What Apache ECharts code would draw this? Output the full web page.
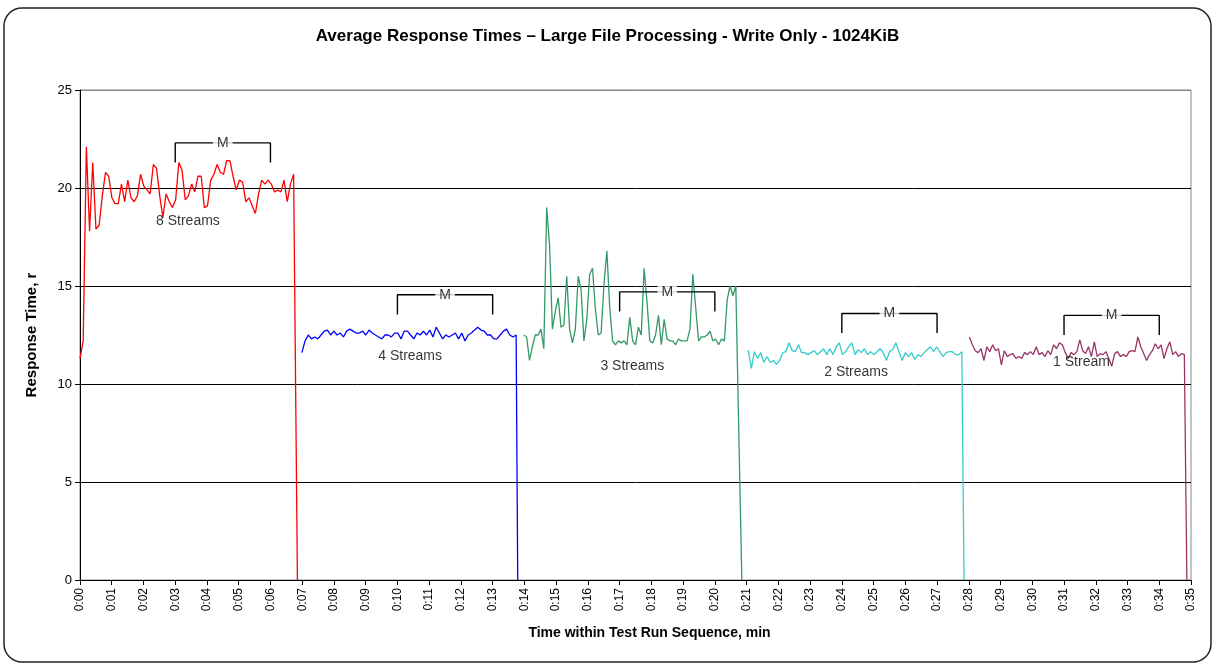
<!DOCTYPE html>
<html>
<head>
<meta charset="utf-8">
<script src="https://cdn.jsdelivr.net/npm/echarts@6/dist/echarts.min.js"></script>
<style>
html,body{margin:0;padding:0;background:#fff;}
#chart{width:1215px;height:664px;}
</style>
</head>
<body>
<div id="chart"></div>
<script>
// ---- data ----
const chartTitle = 'Average Response Times \u2013 Large File Processing - Write Only - 1024KiB';
const yAxisTitle = 'Response Time, r';
const xAxisTitle = 'Time within Test Run Sequence, min';
const seriesNames = ['8 Streams', '4 Streams', '3 Streams', '2 Streams', '1 Stream'];
const seriesColors = ['#FF0000', '#0000FF', '#339966', '#33CCCC', '#993366'];
// minute of first and last sample, and minute where the trace falls to 0
const firstSampleMin = [0.0, 6.99, 13.98, 21.05, 28.02];
const lastSampleMin = [6.73, 13.74, 20.66, 27.78, 34.79];
const dropMin = [6.85, 13.79, 20.85, 27.85, 34.87];

const rt8 = [11.3, 12.2, 22.1, 17.8, 21.3, 17.9, 18.1, 19.6, 20.8, 20.6, 19.5, 19.2, 19.2, 20.2, 19.3, 20.4, 19.5, 19.3, 19.6, 20.7, 20.1, 19.9, 19.7, 21.2, 21.0, 19.6, 18.5, 19.7, 19.3, 19.0, 19.4, 21.3, 20.9, 19.4, 19.6, 20.2, 19.8, 20.6, 20.6, 19.0, 19.1, 20.4, 20.7, 21.2, 20.8, 20.7, 21.4, 21.4, 20.6, 19.9, 20.4, 20.3, 19.3, 19.5, 19.1, 18.7, 19.7, 20.4, 20.2, 20.4, 20.2, 19.8, 19.9, 19.8, 20.4, 19.3, 20.2, 20.7];
const rt4 = [11.6, 12.2, 12.5, 12.3, 12.4, 12.3, 12.5, 12.7, 12.75, 12.5, 12.7, 12.5, 12.6, 12.4, 12.7, 12.8, 12.7, 12.6, 12.6, 12.7, 12.5, 12.75, 12.6, 12.5, 12.4, 12.3, 12.5, 12.5, 12.4, 12.6, 12.6, 12.3, 12.7, 12.7, 12.5, 12.3, 12.6, 12.5, 12.7, 12.5, 12.75, 12.4, 12.9, 12.6, 12.3, 12.5, 12.4, 12.5, 12.6, 12.3, 12.6, 12.2, 12.5, 12.6, 12.75, 12.9, 12.75, 12.7, 12.5, 12.5, 12.3, 12.3, 12.5, 12.7, 12.8, 12.5, 12.4, 12.5];
const rt3 = [12.5, 12.4, 11.2, 11.9, 12.5, 12.5, 12.8, 11.8, 19.0, 17.1, 12.8, 13.7, 14.4, 12.9, 13.0, 15.5, 12.8, 12.1, 12.8, 15.5, 14.8, 12.2, 13.3, 15.6, 15.9, 13.8, 12.5, 12.6, 15.1, 16.8, 13.9, 12.2, 12.0, 12.2, 12.1, 12.2, 12.0, 13.4, 12.2, 12.0, 12.9, 12.5, 15.9, 14.2, 12.2, 12.1, 12.5, 13.5, 12.0, 13.3, 12.3, 12.2, 12.2, 12.0, 12.3, 12.2, 12.2, 12.2, 12.8, 15.6, 13.9, 12.2, 12.4, 12.4, 12.5, 12.7, 12.2, 12.3, 12.0, 12.3, 12.2, 14.3, 15.0, 14.5, 15.0];
const rt2 = [11.73, 10.8, 11.65, 11.3, 11.6, 11.1, 11.4, 11.1, 11.2, 11.0, 11.2, 11.6, 11.65, 12.1, 11.7, 11.65, 12.0, 11.6, 11.6, 11.5, 11.6, 11.7, 11.5, 11.65, 11.8, 11.5, 11.8, 11.5, 11.9, 12.1, 11.5, 11.65, 11.9, 12.1, 11.5, 11.75, 11.6, 11.8, 11.5, 11.65, 11.5, 11.65, 11.8, 11.6, 11.2, 11.65, 11.75, 12.1, 11.65, 11.2, 11.6, 11.4, 11.6, 11.25, 11.5, 11.4, 11.6, 11.75, 11.9, 11.65, 11.9, 11.65, 11.4, 11.6, 11.65, 11.65, 11.5, 11.5, 11.65];
const rt1 = [12.4, 12.0, 11.7, 11.6, 11.8, 11.2, 11.9, 11.65, 12.0, 11.7, 11.8, 10.97, 11.7, 11.4, 11.5, 11.55, 11.3, 11.4, 11.3, 11.6, 11.5, 11.65, 11.5, 11.9, 11.5, 11.6, 11.4, 11.7, 11.5, 12.0, 11.8, 12.1, 12.0, 11.6, 11.3, 11.6, 11.5, 11.65, 12.25, 11.7, 11.55, 11.9, 11.4, 12.15, 11.4, 11.55, 11.5, 11.65, 11.3, 10.9, 11.55, 11.65, 11.4, 11.5, 11.4, 11.65, 11.7, 11.65, 12.4, 11.9, 11.55, 11.2, 11.5, 11.7, 12.05, 11.8, 12.0, 11.3, 11.8, 12.15, 11.5, 11.65, 11.4, 11.55, 11.5];
const allValues = [rt8, rt4, rt3, rt2, rt1];

// measurement-window brackets ("M")
const mStartMin = [3, 10, 17, 24, 31];
const mEndMin = [6, 13, 20, 27, 34];
const mTopVal = [22.3, 14.55, 14.7, 13.6, 13.5];
const mDepth = 1.0;

// stream labels position (minute, value)
const labelMin = [3.4, 10.4, 17.4, 24.45, 31.55];
const labelVal = [18.3, 11.4, 10.9, 10.6, 11.1];

const yMin = 0, yMax = 25, yStep = 5;
const xMin = 0, xMax = 35, xStep = 1;

// ---- build ----
function buildPoints(values, first, last, drop) {
  const step = (last - first) / (values.length - 1);
  const pts = values.map((v, i) => [first + i * step, v]);
  pts.push([drop, 0]);
  return pts;
}

const FONT = 'Liberation Sans, Arial, sans-serif';
const series = [];
allValues.forEach((vals, k) => {
  series.push({
    name: seriesNames[k],
    type: 'line',
    data: buildPoints(vals, firstSampleMin[k], lastSampleMin[k], dropMin[k]),
    showSymbol: false,
    symbol: 'none',
    lineStyle: { color: seriesColors[k], width: 1.3 },
    animation: false,
    z: 3
  });
});
mStartMin.forEach((s, k) => {
  const e = mEndMin[k], t = mTopVal[k];
  series.push({
    type: 'line',
    data: [[s, t - mDepth], [s, t], [e, t], [e, t - mDepth]],
    symbol: 'none',
    lineStyle: { color: '#000', width: 1.4 },
    animation: false,
    z: 4
  });
});
series.push({
  type: 'scatter',
  symbolSize: 0,
  data: mStartMin.map((s, k) => [(s + mEndMin[k]) / 2, mTopVal[k]]),
  label: {
    show: true, position: 'inside', formatter: 'M',
    color: '#000', fontSize: 14, fontFamily: FONT,
    backgroundColor: '#fff', padding: [0, 4]
  },
  animation: false, z: 5
});
series.push({
  type: 'scatter',
  symbolSize: 0,
  data: labelMin.map((m, k) => [m, labelVal[k], seriesNames[k]]),
  label: {
    show: true, position: 'inside', formatter: p => p.data[2],
    color: '#000', fontSize: 14, fontFamily: FONT
  },
  animation: false, z: 6
});

const chart = echarts.init(document.getElementById('chart'), null, { renderer: 'canvas' });
chart.setOption({
  backgroundColor: '#fff',
  animation: false,
  title: {
    text: chartTitle, left: 'center', top: 23,
    textStyle: { fontFamily: FONT, fontWeight: 'bold', fontSize: 17, color: '#000' }
  },
  graphic: [{
    type: 'rect', shape: { x: 4, y: 8, width: 1207, height: 654, r: 18 },
    style: { fill: 'none', stroke: '#222', lineWidth: 1.5 }, silent: true, z: -1
  }],
  grid: { left: 80, right: 24, top: 90, bottom: 84, show: true, borderColor: '#888', borderWidth: 1, backgroundColor: 'transparent' },
  xAxis: {
    type: 'value', min: xMin, max: xMax, interval: xStep,
    name: xAxisTitle, nameLocation: 'middle', nameGap: 46,
    nameTextStyle: { fontFamily: FONT, fontWeight: 'bold', fontSize: 14, color: '#000', padding: [0, 0, 0, 28] },
    axisLine: { show: true, onZero: false, lineStyle: { color: '#000', width: 1 } },
    axisTick: { show: true, length: 5, lineStyle: { color: '#000' } },
    axisLabel: {
      rotate: 90, fontSize: 12, color: '#000', margin: 8, fontFamily: FONT,
      formatter: v => '0:' + String(Math.round(v)).padStart(2, '0')
    },
    splitLine: { show: false }
  },
  yAxis: {
    type: 'value', min: yMin, max: yMax, interval: yStep,
    name: yAxisTitle, nameLocation: 'middle', nameGap: 41,
    nameTextStyle: { fontFamily: FONT, fontWeight: 'bold', fontSize: 15, color: '#000' },
    axisLine: { show: true, lineStyle: { color: '#000', width: 1 } },
    axisTick: { show: true, length: 5, lineStyle: { color: '#000' } },
    axisLabel: { fontSize: 13, color: '#000', margin: 8, fontFamily: FONT },
    splitLine: { show: true, lineStyle: { color: ['#000', '#000', '#000', '#000', '#000', '#888'], width: 1 } }
  },
  series: series
});
</script>
</body>
</html>
